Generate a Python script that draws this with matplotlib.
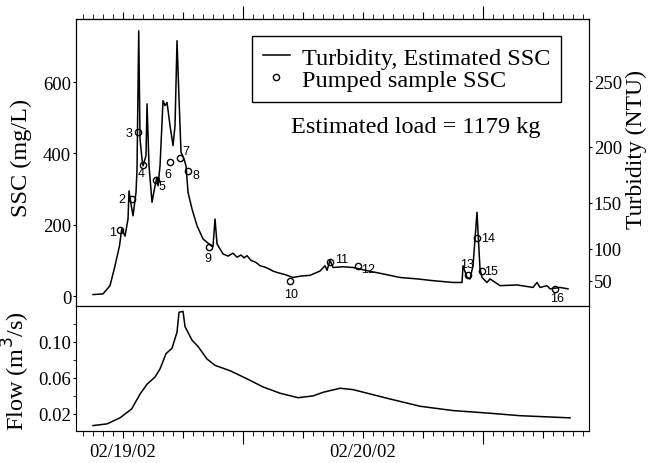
import matplotlib
matplotlib.use("Agg")
import matplotlib.pyplot as plt
import numpy as np

plt.rcParams['font.family'] = ['Liberation Serif', 'DejaVu Serif']

# hours from 02/19/02 00:00
ssc_t = [-3.0, -2.0, -1.3, -0.8, -0.35, -0.13, 0.2, 0.5, 0.6, 0.8, 1.0, 1.3, 1.4, 1.57,
         1.7, 1.9, 2.0, 2.3, 2.4, 2.6, 2.9, 3.2, 3.4, 3.5, 3.7, 4.0, 4.2, 4.4, 4.7, 5.0,
         5.2, 5.4, 5.6, 5.8, 6.1, 6.3, 6.5, 6.9, 7.4, 8.0, 8.9, 9.0, 9.2, 9.4, 10.0, 10.5,
         11.0, 11.4, 11.8, 12.1, 12.4, 12.8, 13.3, 13.7, 14.3, 15.0, 15.4, 16.2, 17.0,
         17.8, 18.7, 19.7, 20.2, 20.4, 20.7, 21.0, 22.0, 23.0, 24.4,
         26.0, 27.7, 29.4, 31.0, 33.0, 33.9, 34.0, 34.4, 34.7, 35.0, 35.4, 35.5, 35.7,
         35.9, 36.4, 36.7, 37.7, 39.4, 41.0, 41.4, 41.7, 42.4, 42.7, 43.7, 44.5]
ssc_v = [4, 6, 29, 85, 141, 188, 168, 216, 295, 258, 225, 291, 356, 744,
         440, 384, 365, 394, 539, 365, 263, 309, 333, 309, 365, 548, 534, 543, 478, 422,
         478, 716, 553, 403, 384, 365, 291, 244, 197, 160, 139, 139, 216, 146, 118, 112,
         120, 109, 115, 107, 113, 100, 94, 85, 80, 70, 66, 60, 52,
         56, 58, 70, 85, 72, 100, 80, 82, 80, 71,
         62, 52, 48, 43, 38, 38, 85, 52, 48, 85, 235, 180, 76,
         52, 38, 48, 29, 31, 24, 38, 24, 29, 20, 24, 20]

samp_t = [-0.3, 0.9, 1.53, 2.0, 3.3, 4.7, 5.7, 6.5, 8.6, 16.7, 20.7, 23.5, 34.5, 35.4, 35.9, 43.2]
samp_ssc = [186, 273, 461, 367, 325, 375, 386, 350, 137, 43, 94, 85, 59, 162, 71, 20]
samp_id = [str(i) for i in range(1, 17)]

flow_t = [-3.0, -1.6, -0.3, 0.87, 1.7, 2.4, 3.2, 3.7, 4.3, 4.9, 5.4, 5.6, 6.0, 6.2, 6.9,
          7.5, 8.4, 9.2, 10.7, 12.4, 14.0, 15.7, 17.5, 19.0, 20.0, 21.7, 23.0, 26.4,
          29.7, 33.0, 36.4, 39.7, 44.7]
flow_q = [0.0070, 0.0089, 0.0156, 0.0256, 0.042, 0.053, 0.061, 0.070, 0.087, 0.093,
          0.111, 0.133, 0.134, 0.117, 0.102, 0.095, 0.081, 0.074, 0.068, 0.059, 0.050,
          0.043, 0.038, 0.040, 0.044, 0.0485, 0.047, 0.0374, 0.0285, 0.0237, 0.021,
          0.018, 0.0156]

# turbidity ticks and the SSC they sit at
turb_ticks = [50, 100, 150, 200, 250]
turb_at_ssc = [43, 132, 261, 418, 602]

date_labels = ["02/19/02", "02/20/02"]

# label offsets (pixels) for sample numbers
lab_off = [(-7, -2), (-10, 0), (-9, -1), (-2, -8), (6, -6), (-2, -12), (6, 7), (8, -4),
           (-1, -11), (1, -13), (12, 3), (10, -3), (-1, 11), (11, 0), (9, 0), (2, -9)]

fig = plt.figure(figsize=(6.52, 4.64), dpi=100)
ax1 = fig.add_axes([0.1166, 0.3384, 0.7868, 0.6185])
ax2 = fig.add_axes([0.1166, 0.069, 0.7868, 0.2694], sharex=ax1)

xlim = (-4.7, 46.6)

# top panel
ax1.plot(ssc_t, ssc_v, color='black', lw=1.1, label='Turbidity, Estimated SSC')
ax1.plot(samp_t, samp_ssc, 'o', ms=4.5, mfc='none', mec='black', mew=1.0,
         label='Pumped sample SSC')
for t, v, s, (dx, dy) in zip(samp_t, samp_ssc, samp_id, lab_off):
    ax1.annotate(s, (t, v), xytext=(dx, dy), textcoords='offset pixels',
                 ha='center', va='center', fontsize=9, family='Liberation Sans')
ax1.set_xlim(*xlim)
ax1.set_ylim(-28, 777)
ax1.set_yticks([0, 200, 400, 600])
ax1.tick_params(axis='y', direction='out', length=2.5, labelsize=13.5, pad=1)
ax1.set_ylabel('SSC (mg/L)', fontsize=17.5)
ax1.yaxis.set_label_coords(-0.085, 0.52)

ax1.xaxis.tick_top()
ax1.set_xticks([0, 6, 18, 24, 30, 42])
ax1.set_xticks(np.arange(-6, 48, 6 / 7), minor=True)
ax1.tick_params(axis='x', which='major', direction='out', length=5, labeltop=False, labelbottom=False)
ax1.tick_params(axis='x', which='minor', direction='out', length=3.5, top=True, bottom=False)
sec1 = ax1.secondary_xaxis('top')
sec1.set_xticks([12, 36])
sec1.tick_params(length=9.5, direction='out', labeltop=False)

leg = ax1.legend(loc='upper left', bbox_to_anchor=(0.343, 0.941), fontsize=17.5,
                 frameon=True, fancybox=False, edgecolor='black', framealpha=1,
                 handlelength=1.1, handletextpad=0.5, borderpad=0.45,
                 labelspacing=0.0, borderaxespad=0)
leg.get_frame().set_linewidth(1.0)
ax1.text(0.663, 0.627, 'Estimated load = 1179 kg', transform=ax1.transAxes,
         ha='center', va='center', fontsize=17.5)

axr = ax1.twinx()
axr.set_ylim(ax1.get_ylim())
axr.set_yticks(turb_at_ssc)
axr.set_yticklabels([str(v) for v in turb_ticks])
axr.tick_params(axis='y', direction='out', length=2.5, labelsize=13.5, pad=1)
axr.set_ylabel('Turbidity (NTU)', fontsize=17)
axr.yaxis.set_label_coords(1.072, 0.55)

# bottom panel
ax2.plot(flow_t, flow_q, color='black', lw=1.1)
ax2.set_ylim(0.001, 0.14)
ax2.set_yticks([0.02, 0.06, 0.10])
ax2.set_yticklabels(['0.02', '0.06', '0.10'])
ax2.set_yticks([0.04, 0.08, 0.12], minor=True)
ax2.tick_params(axis='y', which='both', direction='out', length=2.5, labelsize=13.5, pad=1)
ax2.set_ylabel('Flow (m$^3$/s)', fontsize=17.5)
ax2.yaxis.set_label_coords(-0.085, 0.49)

ax2.set_xticks([0, 6, 18, 24, 30, 42])
ax2.set_xticklabels([date_labels[0], '', '', date_labels[1], '', ''])
ax2.set_xticks(np.arange(-6, 48, 1), minor=True)
ax2.tick_params(axis='x', which='major', direction='out', length=5, labelsize=13.5, pad=4)
ax2.tick_params(axis='x', which='minor', direction='out', length=3.5)
sec2 = ax2.secondary_xaxis('bottom')
sec2.set_xticks([12, 36])
sec2.tick_params(length=9, direction='out', labelbottom=False)
ax2.set_xlim(*xlim)

fig.savefig('out.png', dpi=100)
